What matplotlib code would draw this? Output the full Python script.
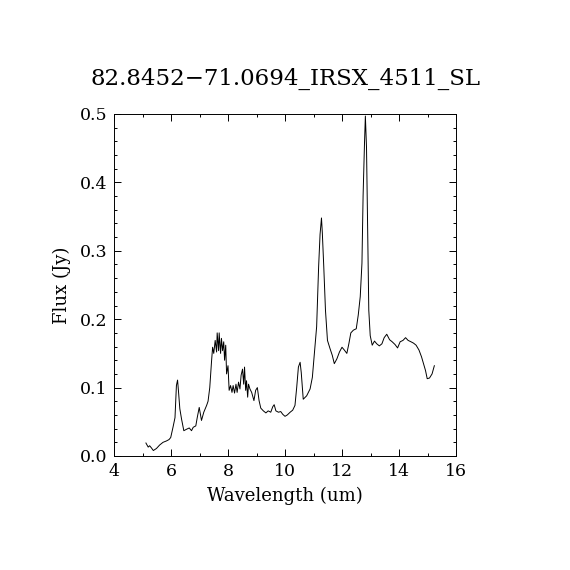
import matplotlib
matplotlib.use("Agg")
import matplotlib.pyplot as plt
from matplotlib.ticker import MultipleLocator

# Spectrum
wavelength = [5.12, 5.20, 5.25, 5.31, 5.38, 5.49, 5.60, 5.72, 5.84, 5.93, 5.99,
              6.07, 6.14, 6.19, 6.23, 6.26, 6.31, 6.37, 6.45, 6.54, 6.64, 6.72,
              6.78, 6.87, 6.92, 6.99, 7.04, 7.07, 7.15, 7.25, 7.30, 7.36, 7.42,
              7.46, 7.50, 7.55, 7.60, 7.62, 7.67, 7.69, 7.74, 7.77, 7.81, 7.85,
              7.88, 7.92, 7.95, 8.00, 8.04, 8.09, 8.14, 8.18, 8.23, 8.28, 8.32,
              8.37, 8.42, 8.46, 8.51, 8.55, 8.58, 8.62, 8.65, 8.69, 8.72, 8.77,
              8.83, 8.91, 8.97, 9.03, 9.09, 9.15, 9.24, 9.33, 9.41, 9.50, 9.57,
              9.62, 9.68, 9.77, 9.85, 9.92, 10.00, 10.08, 10.18, 10.27, 10.35,
              10.41, 10.47, 10.53, 10.57, 10.64, 10.76, 10.88, 10.96, 11.04,
              11.11, 11.18, 11.23, 11.28, 11.31, 11.36, 11.42, 11.49, 11.58,
              11.66, 11.73, 11.82, 11.91, 12.00, 12.08, 12.17, 12.24, 12.31,
              12.40, 12.50, 12.57, 12.64, 12.70, 12.74, 12.79, 12.82, 12.86,
              12.89, 12.94, 12.99, 13.06, 13.14, 13.22, 13.31, 13.40, 13.48,
              13.57, 13.67, 13.76, 13.86, 13.95, 14.04, 14.14, 14.23, 14.32,
              14.42, 14.51, 14.60, 14.70, 14.79, 14.86, 14.93, 14.99, 15.07,
              15.16, 15.24]
flux = [0.019, 0.013, 0.015, 0.012, 0.008, 0.011, 0.016, 0.020, 0.022, 0.024, 0.027,
        0.042, 0.056, 0.103, 0.111, 0.096, 0.069, 0.054, 0.037, 0.039, 0.041, 0.037,
        0.042, 0.044, 0.056, 0.071, 0.059, 0.052, 0.064, 0.074, 0.080, 0.100, 0.137,
        0.159, 0.150, 0.169, 0.152, 0.180, 0.154, 0.180, 0.150, 0.172, 0.154, 0.167,
        0.140, 0.162, 0.120, 0.132, 0.096, 0.103, 0.093, 0.103, 0.092, 0.105, 0.093,
        0.108, 0.098, 0.118, 0.127, 0.105, 0.130, 0.096, 0.110, 0.086, 0.105, 0.098,
        0.093, 0.081, 0.096, 0.100, 0.081, 0.070, 0.066, 0.063, 0.066, 0.064, 0.072,
        0.075, 0.066, 0.064, 0.065, 0.061, 0.058, 0.060, 0.064, 0.067, 0.074,
        0.100, 0.130, 0.137, 0.122, 0.083, 0.088, 0.098, 0.115, 0.154,
        0.189, 0.277, 0.324, 0.348, 0.326, 0.277, 0.213, 0.169, 0.157,
        0.147, 0.135, 0.142, 0.152, 0.159, 0.155, 0.150, 0.164, 0.180,
        0.184, 0.186, 0.206, 0.233, 0.282, 0.380, 0.458, 0.497, 0.451,
        0.360, 0.213, 0.176, 0.162, 0.168, 0.164, 0.161, 0.164, 0.173,
        0.178, 0.170, 0.167, 0.163, 0.158, 0.167, 0.169, 0.173, 0.169,
        0.167, 0.165, 0.162, 0.155, 0.145, 0.135, 0.125, 0.113, 0.114,
        0.120, 0.132]

title = "82.8452\u221271.0694_IRSX_4511_SL"

plt.rcParams['font.family'] = ['DejaVu Serif']

fig = plt.figure(figsize=(5.7, 5.7), dpi=100)
ax = fig.add_axes([0.2, 0.2, 0.6, 0.6])
ax.plot(wavelength, flux, color="black", linewidth=0.7)

ax.set_xlim(4, 16)
ax.set_ylim(0, 0.5)
ax.xaxis.set_major_locator(MultipleLocator(2))
ax.xaxis.set_minor_locator(MultipleLocator(1))
ax.yaxis.set_major_locator(MultipleLocator(0.1))
ax.yaxis.set_minor_locator(MultipleLocator(0.02))
ax.yaxis.set_major_formatter(plt.FuncFormatter(lambda v, p: f"{v:.1f}"))
ax.tick_params(which="both", direction="in", top=True, right=True,
               labelsize=12.5, width=0.7, pad=5)
ax.tick_params(which="major", length=5)
ax.tick_params(which="minor", length=2.5)
for s in ax.spines.values():
    s.set_linewidth(0.7)

ax.set_xlabel("Wavelength (um)", fontsize=13, labelpad=5)
ax.set_ylabel("Flux (Jy)", fontsize=13, labelpad=6)
ax.set_title(title, fontsize=16.5, pad=21)

fig.savefig("out.png", dpi=100)
